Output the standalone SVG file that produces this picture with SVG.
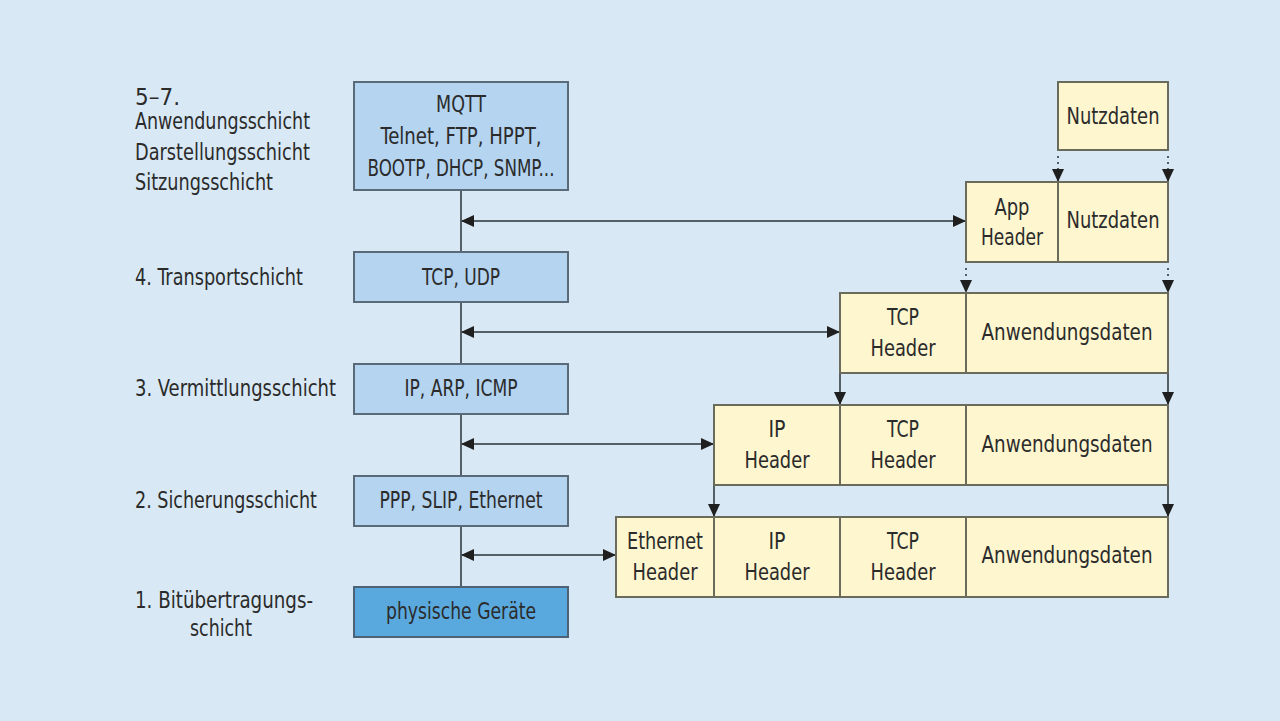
<svg xmlns="http://www.w3.org/2000/svg" width="1280" height="721" viewBox="0 0 1280 721">
<defs>
<style>
text{font-family:"DejaVu Sans Condensed","Liberation Sans Narrow","Liberation Sans",sans-serif;font-stretch:condensed;font-size:23px;fill:#2b2b2b}
.c{text-anchor:middle}
.blue{fill:#b4d4f0;stroke:#5b6a78;stroke-width:2}
.dblue{fill:#5aa9de;stroke:#4d6275;stroke-width:2}
.yel{fill:#fdf6cf;stroke:#6b6b5c;stroke-width:2}
.ln{stroke:#555f66;stroke-width:2;fill:none}
.dl{stroke:#555f66;stroke-width:2;fill:none;stroke-dasharray:2 4}
</style>
<marker id="ah" viewBox="0 0 13 12" refX="13" refY="6" markerWidth="13" markerHeight="12" markerUnits="userSpaceOnUse" orient="auto-start-reverse">
<path d="M0,0 L13,6 L0,12 Z" fill="#1f1f1f"/>
</marker>
</defs>
<rect width="1280" height="721" fill="#d8e9f5"/>

<g id="labels">
<text x="135" y="105" textLength="45" lengthAdjust="spacingAndGlyphs">5–7.</text>
<text x="135" y="129" textLength="175" lengthAdjust="spacingAndGlyphs">Anwendungsschicht</text>
<text x="135" y="160" textLength="175" lengthAdjust="spacingAndGlyphs">Darstellungsschicht</text>
<text x="135" y="190" textLength="138" lengthAdjust="spacingAndGlyphs">Sitzungsschicht</text>
<text x="135" y="285" textLength="168" lengthAdjust="spacingAndGlyphs">4. Transportschicht</text>
<text x="135" y="396" textLength="201" lengthAdjust="spacingAndGlyphs">3. Vermittlungsschicht</text>
<text x="135" y="508" textLength="182" lengthAdjust="spacingAndGlyphs">2. Sicherungsschicht</text>
<text x="135" y="608" textLength="178" lengthAdjust="spacingAndGlyphs">1. Bitübertragungs-</text>
<text x="190" y="636" textLength="62" lengthAdjust="spacingAndGlyphs">schicht</text>
</g>

<g id="connectors">
<line class="ln" x1="461" y1="190" x2="461" y2="587"/>
<line class="ln" x1="461" y1="221" x2="966" y2="221" marker-start="url(#ah)" marker-end="url(#ah)"/>
<line class="ln" x1="461" y1="332" x2="840" y2="332" marker-start="url(#ah)" marker-end="url(#ah)"/>
<line class="ln" x1="461" y1="444" x2="714" y2="444" marker-start="url(#ah)" marker-end="url(#ah)"/>
<line class="ln" x1="461" y1="555" x2="616" y2="555" marker-start="url(#ah)" marker-end="url(#ah)"/>
<line class="dl" x1="1058" y1="156" x2="1058" y2="182" marker-end="url(#ah)"/>
<line class="dl" x1="1168" y1="156" x2="1168" y2="182" marker-end="url(#ah)"/>
<line class="dl" x1="966" y1="268" x2="966" y2="293" marker-end="url(#ah)"/>
<line class="dl" x1="1168" y1="268" x2="1168" y2="293" marker-end="url(#ah)"/>
<line class="ln" x1="840" y1="373" x2="840" y2="405" marker-end="url(#ah)"/>
<line class="ln" x1="1168" y1="373" x2="1168" y2="405" marker-end="url(#ah)"/>
<line class="ln" x1="714" y1="485" x2="714" y2="517" marker-end="url(#ah)"/>
<line class="ln" x1="1168" y1="485" x2="1168" y2="517" marker-end="url(#ah)"/>
</g>

<g id="app-layer">
<rect class="blue" x="354" y="82" width="214" height="108"/>
<text x="461" y="112" class="c" textLength="50" lengthAdjust="spacingAndGlyphs">MQTT</text>
<text x="461" y="144" class="c" textLength="161" lengthAdjust="spacingAndGlyphs">Telnet, FTP, HPPT,</text>
<text x="461" y="176" class="c" textLength="187" lengthAdjust="spacingAndGlyphs">BOOTP, DHCP, SNMP...</text>
</g>
<g id="transport-layer">
<rect class="blue" x="354" y="252" width="214" height="50"/>
<text x="461" y="285" class="c" textLength="78" lengthAdjust="spacingAndGlyphs">TCP, UDP</text>
</g>
<g id="network-layer">
<rect class="blue" x="354" y="364" width="214" height="50"/>
<text x="461" y="396" class="c" textLength="113" lengthAdjust="spacingAndGlyphs">IP, ARP, ICMP</text>
</g>
<g id="datalink-layer">
<rect class="blue" x="354" y="476" width="214" height="50"/>
<text x="461" y="508" class="c" textLength="163" lengthAdjust="spacingAndGlyphs">PPP, SLIP, Ethernet</text>
</g>
<g id="physical-layer">
<rect class="dblue" x="354" y="587" width="214" height="50"/>
<text x="461" y="619" class="c" textLength="150" lengthAdjust="spacingAndGlyphs">physische Geräte</text>
</g>

<g id="payload">
<rect class="yel" x="1058" y="82" width="110" height="68"/>
<text x="1113" y="124" class="c" textLength="93" lengthAdjust="spacingAndGlyphs">Nutzdaten</text>
</g>

<g id="app-frame">
<rect class="yel" x="966" y="182" width="92" height="80"/>
<rect class="yel" x="1058" y="182" width="110" height="80"/>
<text x="1012" y="215" class="c" textLength="35" lengthAdjust="spacingAndGlyphs">App</text>
<text x="1012" y="245" class="c" textLength="62" lengthAdjust="spacingAndGlyphs">Header</text>
<text x="1113" y="228" class="c" textLength="93" lengthAdjust="spacingAndGlyphs">Nutzdaten</text>
</g>

<g id="tcp-frame">
<rect class="yel" x="840" y="293" width="126" height="80"/>
<rect class="yel" x="966" y="293" width="202" height="80"/>
<text x="903" y="325" class="c" textLength="32" lengthAdjust="spacingAndGlyphs">TCP</text>
<text x="903" y="356" class="c" textLength="65" lengthAdjust="spacingAndGlyphs">Header</text>
<text x="1067" y="340" class="c" textLength="171" lengthAdjust="spacingAndGlyphs">Anwendungsdaten</text>
</g>

<g id="ip-frame">
<rect class="yel" x="714" y="405" width="126" height="80"/>
<rect class="yel" x="840" y="405" width="126" height="80"/>
<rect class="yel" x="966" y="405" width="202" height="80"/>
<text x="777" y="437" class="c" textLength="17" lengthAdjust="spacingAndGlyphs">IP</text>
<text x="777" y="468" class="c" textLength="65" lengthAdjust="spacingAndGlyphs">Header</text>
<text x="903" y="437" class="c" textLength="32" lengthAdjust="spacingAndGlyphs">TCP</text>
<text x="903" y="468" class="c" textLength="65" lengthAdjust="spacingAndGlyphs">Header</text>
<text x="1067" y="452" class="c" textLength="171" lengthAdjust="spacingAndGlyphs">Anwendungsdaten</text>
</g>

<g id="ethernet-frame">
<rect class="yel" x="616" y="517" width="98" height="80"/>
<rect class="yel" x="714" y="517" width="126" height="80"/>
<rect class="yel" x="840" y="517" width="126" height="80"/>
<rect class="yel" x="966" y="517" width="202" height="80"/>
<text x="665" y="549" class="c" textLength="76" lengthAdjust="spacingAndGlyphs">Ethernet</text>
<text x="665" y="580" class="c" textLength="65" lengthAdjust="spacingAndGlyphs">Header</text>
<text x="777" y="549" class="c" textLength="17" lengthAdjust="spacingAndGlyphs">IP</text>
<text x="777" y="580" class="c" textLength="65" lengthAdjust="spacingAndGlyphs">Header</text>
<text x="903" y="549" class="c" textLength="32" lengthAdjust="spacingAndGlyphs">TCP</text>
<text x="903" y="580" class="c" textLength="65" lengthAdjust="spacingAndGlyphs">Header</text>
<text x="1067" y="563" class="c" textLength="171" lengthAdjust="spacingAndGlyphs">Anwendungsdaten</text>
</g>
</svg>
